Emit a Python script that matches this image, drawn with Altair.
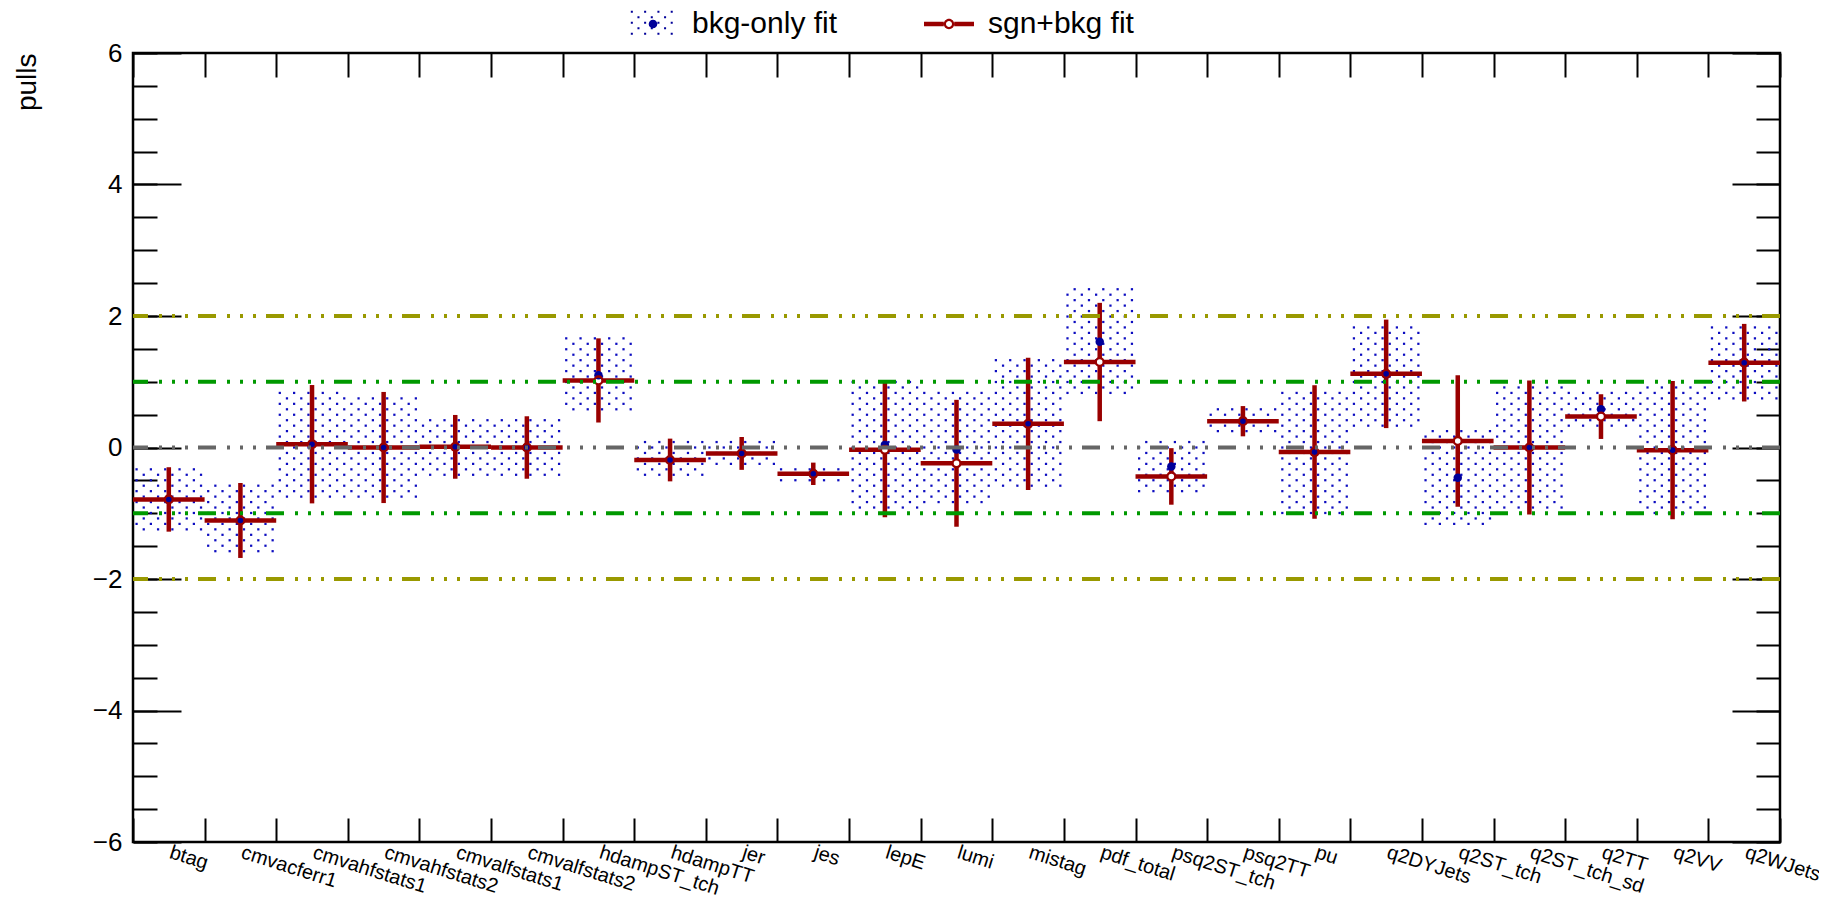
import json
import altair as alt
import pandas as pd

# ---------------- data ----------------
categories = ["btag", "cmvacferr1", "cmvahfstats1", "cmvahfstats2", "cmvalfstats1",
              "cmvalfstats2", "hdampST_tch", "hdampTT", "jer", "jes", "lepE", "lumi",
              "mistag", "pdf_total", "psq2ST_tch", "psq2TT", "pu", "q2DYJets",
              "q2ST_tch", "q2ST_tch_sd", "q2TT", "q2VV", "q2WJets"]
bkg_pull = [-0.79, -1.11, 0.05, 0.00, 0.01, 0.00, 1.10, -0.19, -0.09, -0.40, 0.04, -0.03,
            0.36, 1.61, -0.29, 0.40, -0.07, 1.11, -0.46, 0.00, 0.58, -0.04, 1.29]
bkg_err = [0.46, 0.53, 0.86, 0.81, 0.47, 0.47, 0.60, 0.28, 0.20, 0.12, 0.96, 0.88,
           0.99, 0.80, 0.45, 0.19, 0.96, 0.78, 0.73, 0.99, 0.26, 1.02, 0.545]
sgn_pull = [-0.79, -1.11, 0.05, 0.00, 0.01, 0.00, 1.02, -0.19, -0.09, -0.40, -0.035, -0.24,
            0.36, 1.30, -0.44, 0.40, -0.07, 1.12, 0.10, 0.00, 0.47, -0.04, 1.29]
sgn_err = [0.49, 0.57, 0.90, 0.845, 0.485, 0.475, 0.64, 0.325, 0.25, 0.17, 1.025, 0.965,
           1.005, 0.90, 0.43, 0.23, 1.015, 0.825, 1.00, 1.02, 0.34, 1.05, 0.59]
series_names = ["bkg-only fit", "sgn+bkg fit"]
ref_levels = [-2, -1, 0, 1, 2]
y_major_ticks = [-6, -4, -2, 0, 2, 4, 6]
y_minor_ticks = [v / 2 for v in range(-12, 13)]

n = len(categories)
x_edges = list(range(n + 1))
x_centers = [i + 0.5 for i in range(n)]

df = pd.DataFrame({
    "category": categories,
    "idx": list(range(n)),
    "b": bkg_pull, "berr": bkg_err,
    "s": sgn_pull, "serr": sgn_err,
})

# ---------------- style ----------------
W, H = 1647, 789
FONT = "Liberation Sans"
RED = "#990000"
BLUE = "#000099"
PAT = "#0c0cc0"
GRAY = "#666666"
GREEN = "#009900"
OLIVE = "#999900"
DASH = [18, 10, 3, 10, 3, 10, 3, 11]
ROW = 0.083          # pattern row step (data units)
PER_BIN = 5          # pattern dots per row per bin

xscale = alt.Scale(domain=[0, n], nice=False, zero=False)
yscale = alt.Scale(domain=[-6, 6], nice=False, zero=False)

label_expr = f"{json.dumps(categories)}[floor(datum.value)]"

tick_common = dict(labels=False, domain=False, grid=False, title=None, tickColor="black",
                   tickWidth=2)

ax_x_labels = alt.Axis(orient="bottom", values=x_centers, labelExpr=label_expr,
                       labelAngle=17.5, labelAlign="left", labelBaseline="top",
                       labelFontSize=20, labelPadding=0, labelOffset=4, ticks=False,
                       tickSize=0, domain=False, grid=False, title=None, labelOverlap=False,
                       labelBound=False, labelFlush=False, labelLimit=400)
ax_x_bottom_ticks = alt.Axis(orient="top", offset=-H, values=x_edges, tickSize=24, **tick_common)
ax_x_top_ticks = alt.Axis(orient="bottom", offset=-H, values=x_edges, tickSize=24, **tick_common)

ay_labels = alt.Axis(orient="left", values=y_major_ticks, labelFontSize=26, labelPadding=11,
                     ticks=False, tickSize=0, domain=False, grid=False, title="pulls",
                     titleFontSize=28, titleX=-120, titleY=0, titleAngle=-90,
                     titleAlign="right", titleBaseline="top", titleFontWeight="normal",
                     labelFlush=False, labelOverlap=False)
ay_left_major = alt.Axis(orient="right", offset=-W, values=y_major_ticks, tickSize=48, **tick_common)
ay_left_minor = alt.Axis(orient="right", offset=-W, values=y_minor_ticks, tickSize=24, **tick_common)
ay_right_major = alt.Axis(orient="left", offset=-W, values=y_major_ticks, tickSize=48, **tick_common)
ay_right_minor = alt.Axis(orient="left", offset=-W, values=y_minor_ticks, tickSize=24, **tick_common)

base = alt.Chart(df)

# dotted (pattern) boxes for the bkg-only fit uncertainty
pattern = base.transform_calculate(
    lo="datum.b - datum.berr", hi="datum.b + datum.berr"
).transform_calculate(
    ks=f"sequence(ceil(datum.lo / {ROW}), floor(datum.hi / {ROW}) + 1)",
    js=f"sequence(0, {PER_BIN})",
).transform_flatten(["ks"]).transform_flatten(["js"]).transform_calculate(
    py=f"datum.ks * {ROW}",
    px=f"datum.idx + (datum.js + ((((datum.ks % 2) + 2) % 2) == 0 ? 0.25 : 0.75)) / {PER_BIN}",
).mark_square(size=5, color=PAT, opacity=1).encode(
    x=alt.X("px:Q", scale=xscale, axis=ax_x_labels),
    y=alt.Y("py:Q", scale=yscale, axis=ay_labels),
)

hbar = base.transform_calculate(
    x0="datum.idx", x1="datum.idx + 1"
).mark_rule(color=RED, strokeWidth=4.5, strokeCap="butt").encode(
    x=alt.X("x0:Q", scale=xscale, axis=ax_x_bottom_ticks),
    x2="x1:Q",
    y=alt.Y("s:Q", scale=yscale, axis=ay_left_major),
)

vbar = base.transform_calculate(
    xc="datum.idx + 0.5", lo="datum.s - datum.serr", hi="datum.s + datum.serr"
).mark_rule(color=RED, strokeWidth=4.5, strokeCap="butt").encode(
    x=alt.X("xc:Q", scale=xscale, axis=ax_x_top_ticks),
    y=alt.Y("lo:Q", scale=yscale, axis=ay_left_minor),
    y2="hi:Q",
)

centers = base.transform_calculate(xc="datum.idx + 0.5")

ring_bg = centers.mark_point(filled=True, color="white", size=62, opacity=1).encode(
    x=alt.X("xc:Q", scale=xscale, axis=None),
    y=alt.Y("s:Q", scale=yscale, axis=ay_right_major),
)

blue_dot = centers.mark_point(filled=True, color=BLUE, size=72, opacity=1).encode(
    x=alt.X("xc:Q", scale=xscale, axis=None),
    y=alt.Y("b:Q", scale=yscale, axis=ay_right_minor),
)

ring = centers.mark_point(filled=False, color=RED, size=62, strokeWidth=2.3, opacity=1).encode(
    x=alt.X("xc:Q", scale=xscale, axis=None),
    y=alt.Y("s:Q", scale=yscale, axis=None),
)

lines_src = alt.Chart(pd.DataFrame({"lvl": ref_levels}))


def ref_line(expr, color):
    return lines_src.transform_filter(expr).mark_rule(
        color=color, strokeWidth=4, strokeDash=DASH, strokeCap="butt"
    ).encode(y=alt.Y("lvl:Q", scale=yscale, axis=None))


line0 = ref_line("datum.lvl == 0", GRAY)
line1 = ref_line("abs(datum.lvl) == 1", GREEN)
line2 = ref_line("abs(datum.lvl) == 2", OLIVE)

# ---------------- legend symbols (custom paths, unit = sqrt(size)/2 px) ----------------
U = 14.5


def circ(r, cw=True):
    s = 1 if cw else 0
    return (f"M{-r:.3f},0A{r:.3f},{r:.3f} 0 1,{s} {r:.3f},0"
            f"A{r:.3f},{r:.3f} 0 1,{s} {-r:.3f},0Z")


hw = 24.5 / U
parts = []
k = 0
yy = -1 + 0.15
while yy < 1:
    off = 0.25 if k % 2 == 0 else 0.75
    j = 0
    while True:
        xx = -hw + (j + off) * (13.3 / U)
        if xx > hw:
            break
        d = 0.07
        parts.append(f"M{xx - d:.3f},{yy - d:.3f}h{2 * d:.3f}v{2 * d:.3f}h{-2 * d:.3f}Z")
        j += 1
    yy += 5.5 / U
    k += 1
parts.append(circ(4.3 / U))
path_bkg = "".join(parts)

L = 25 / U
t = 2.2 / U
ro, ri = 5.2 / U, 3.0 / U
path_sgn = (f"M{-L:.3f},{-t:.3f}H{-ro:.3f}V{t:.3f}H{-L:.3f}Z"
            f"M{ro:.3f},{-t:.3f}H{L:.3f}V{t:.3f}H{ro:.3f}Z"
            + circ(ro, True) + circ(ri, False))

leg = alt.Legend(title=None, orient="none", legendX=505, legendY=-44, direction="horizontal",
                 symbolSize=U * U * 4, symbolStrokeWidth=0, labelFont=FONT, labelFontSize=30,
                 labelColor="black", labelOffset=24, columnPadding=86, padding=0,
                 symbolOpacity=1, labelLimit=400)

legend_layer = alt.Chart(pd.DataFrame({"series": series_names})).transform_filter(
    "false"
).mark_point(filled=True, opacity=1).encode(
    color=alt.Color("series:N", scale=alt.Scale(domain=series_names, range=[BLUE, RED]), legend=leg),
    shape=alt.Shape("series:N", scale=alt.Scale(domain=series_names, range=[path_bkg, path_sgn]),
                    legend=leg),
)

chart = alt.layer(
    pattern, hbar, vbar, ring_bg, blue_dot, ring, line0, line1, line2, legend_layer
).resolve_axis(
    x="independent", y="independent"
).properties(
    width=W, height=H,
    autosize=alt.AutoSizeParams(type="none"),
    padding={"left": 125, "top": 45, "right": 39, "bottom": 62},
).configure_view(
    stroke="black", strokeWidth=2.5
).configure_axis(
    labelFont=FONT, titleFont=FONT, labelColor="black", titleColor="black",
    tickColor="black", domainColor="black", grid=False
)

chart.save("out.html", embed_options={"renderer": "svg", "actions": False})
